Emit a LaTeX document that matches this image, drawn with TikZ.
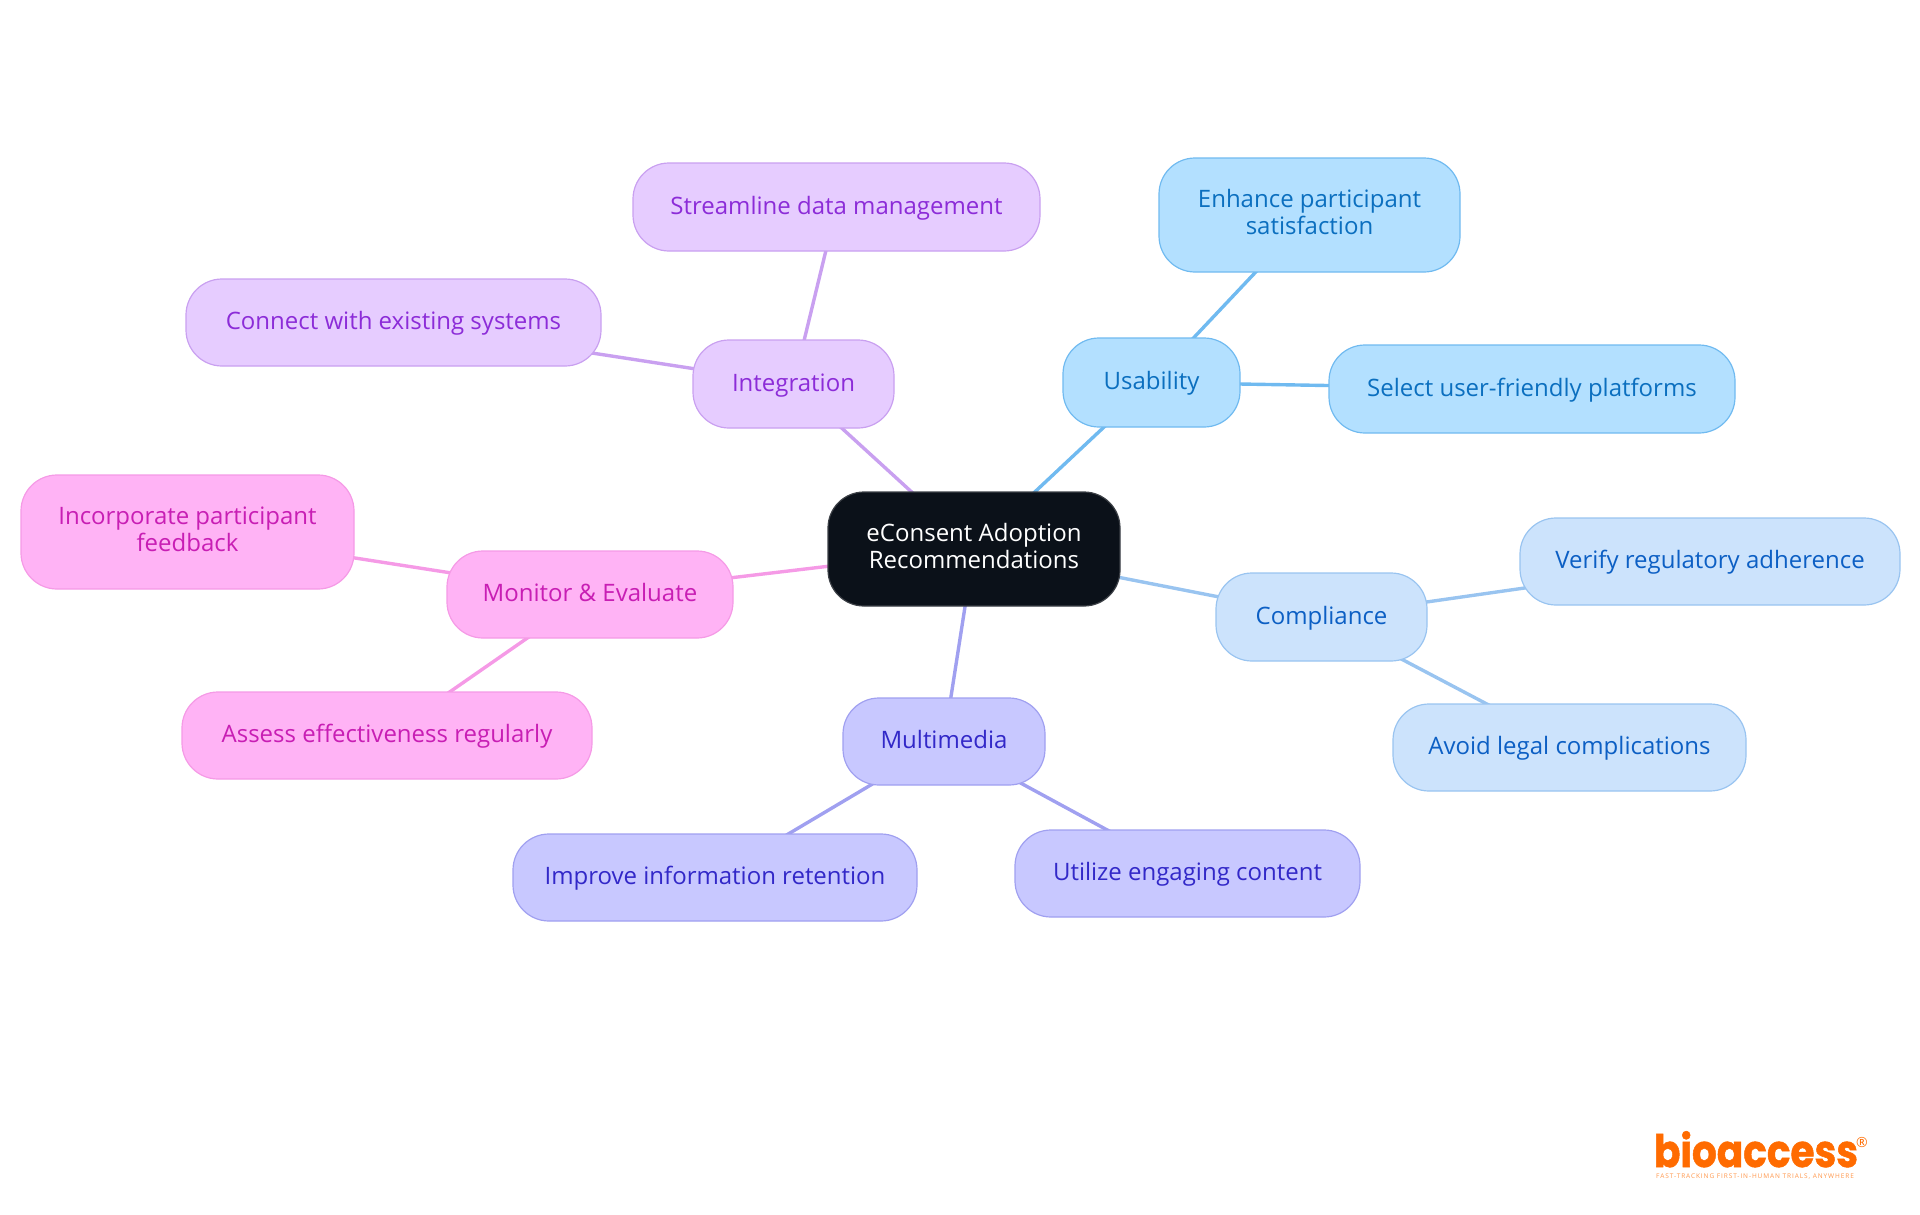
\documentclass[tikz,border=0pt]{standalone}
\usepackage{graphicx}
\usepackage{fontspec}
\setmainfont{Open Sans}
\newfontfamily\logofont[BoldFeatures={FakeBold=1.2}]{Poppins}
\newfontfamily\tagfont[LetterSpace=14]{Open Sans}
\usetikzlibrary{backgrounds}
\definecolor{uF}{HTML}{B3E0FF}\definecolor{uL}{HTML}{70BAF0}\definecolor{uT}{HTML}{0B6FBF}
\definecolor{cF}{HTML}{CCE3FC}\definecolor{cL}{HTML}{99C4F0}\definecolor{cT}{HTML}{0C5FC4}
\definecolor{mF}{HTML}{C8C8FF}\definecolor{mL}{HTML}{A0A0F0}\definecolor{mT}{HTML}{3228C8}
\definecolor{pF}{HTML}{FFB3F5}\definecolor{pL}{HTML}{F59AE6}\definecolor{pT}{HTML}{C81EB4}
\definecolor{iF}{HTML}{E6CCFF}\definecolor{iL}{HTML}{C9A0F0}\definecolor{iT}{HTML}{8C2CD8}
\definecolor{rootF}{HTML}{0B1119}\definecolor{rootL}{HTML}{3C4046}
\definecolor{logoC}{HTML}{FF6B00}
\tikzset{
  mm/.style={rectangle,rounded corners=36pt,line width=1.2pt,align=center,inner sep=0pt,font=\fontsize{24}{26.5}\selectfont,
    execute at begin node={\rule{0pt}{20.5pt}},execute at end node={\rule[-6pt]{0pt}{6pt}}},
  uN/.style={mm,fill=uF,draw=uL,text=uT}, cN/.style={mm,fill=cF,draw=cL,text=cT},
  vN/.style={mm,fill=mF,draw=mL,text=mT}, pN/.style={mm,fill=pF,draw=pL,text=pT},
  iN/.style={mm,fill=iF,draw=iL,text=iT}, rootN/.style={mm,fill=rootF,draw=rootL,text=white},
  wire/.style={line width=3.4pt},
}
\newcommand{\mmnode}[7]{\node[#1,minimum width=#5pt-#3pt,minimum height=#6pt-#4pt] (#2) at ({(#3+#5)/2},{(#4+#6)/2}) {#7};}
\begin{document}
\begin{tikzpicture}[x=1pt,y=-1pt]
\useasboundingbox (0,0) rectangle (1920,1215);
\mmnode{rootN}{root}{828}{492}{1120}{606}{eConsent Adoption\\Recommendations}
\mmnode{uN}{usab}{1063}{338}{1240}{427}{Usability}
\mmnode{uN}{enh}{1159}{158}{1460}{272}{Enhance participant\\satisfaction}
\mmnode{uN}{sel}{1329}{345}{1735}{433}{Select user-friendly platforms}
\mmnode{cN}{comp}{1216}{573}{1427}{661}{Compliance}
\mmnode{cN}{ver}{1520}{518}{1900}{605}{Verify regulatory adherence}
\mmnode{cN}{avo}{1393}{704}{1746}{791}{Avoid legal complications}
\mmnode{vN}{mult}{843}{698}{1045}{785}{Multimedia}
\mmnode{vN}{imp}{513}{834}{917}{921}{Improve information retention}
\mmnode{vN}{uti}{1015}{830}{1360}{917}{Utilize engaging content}
\mmnode{pN}{mon}{447}{551}{733}{638}{Monitor \& Evaluate}
\mmnode{pN}{inc}{21}{475}{354}{589}{Incorporate participant\\feedback}
\mmnode{pN}{ass}{182}{692}{592}{779}{Assess effectiveness regularly}
\mmnode{iN}{integ}{693}{340}{894}{428}{Integration}
\mmnode{iN}{con}{186}{279}{601}{366}{Connect with existing systems}
\mmnode{iN}{str}{633}{163}{1040}{251}{Streamline data management}
\begin{scope}[on background layer]
\draw[wire,uL] (root.center)--(usab.center);
\draw[wire,uL] (usab.center)--(enh.center);
\draw[wire,uL] (usab.center)--(sel.center);
\draw[wire,cL] (root.center)--(comp.center);
\draw[wire,cL] (comp.center)--(ver.center);
\draw[wire,cL] (comp.center)--(avo.center);
\draw[wire,mL] (root.center)--(mult.center);
\draw[wire,mL] (mult.center)--(imp.center);
\draw[wire,mL] (mult.center)--(uti.center);
\draw[wire,pL] (root.center)--(mon.center);
\draw[wire,pL] (mon.center)--(inc.center);
\draw[wire,pL] (mon.center)--(ass.center);
\draw[wire,iL] (root.center)--(integ.center);
\draw[wire,iL] (integ.center)--(con.center);
\draw[wire,iL] (integ.center)--(str.center);
\end{scope}
\node[inner sep=0pt,anchor=base,text=logoC,font=\logofont\bfseries\fontsize{39}{39}\selectfont] (logo) at (1756,1167) {\scalebox{1}[1.15]{bioaccess}};
\node[inner sep=0pt,text=logoC,font=\fontsize{14}{14}\selectfont] (reg) at (1862,1142) {®};
\node[inner sep=0pt,text=logoC!70,font=\tagfont\fontsize{6.5}{7}\selectfont] (tag) at (1755,1177) {FAST-TRACKING FIRST-IN-HUMAN TRIALS, ANYWHERE};
\end{tikzpicture}
\end{document}
